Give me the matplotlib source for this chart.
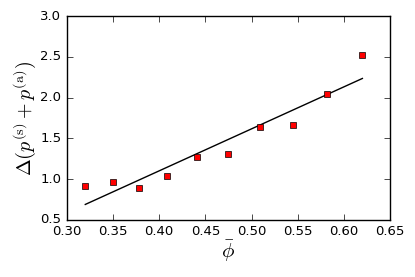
import matplotlib
matplotlib.use("Agg")
import matplotlib.pyplot as plt

phi = [0.32, 0.35, 0.378, 0.409, 0.441, 0.475, 0.509, 0.545, 0.582, 0.620]
delta_p = [0.92, 0.96, 0.89, 1.04, 1.27, 1.31, 1.64, 1.67, 2.04, 2.52]

fit_phi = [0.32, 0.62]
fit_delta = [0.69, 2.235]

plt.style.use('classic')
plt.rcParams['figure.facecolor'] = 'white'
plt.rcParams['savefig.facecolor'] = 'white'
plt.rcParams['mathtext.fontset'] = 'cm'

fig = plt.figure(figsize=(4.15, 2.77), dpi=100)
ax = fig.add_axes([0.161, 0.206, 0.779, 0.736])

ax.plot(fit_phi, fit_delta, color='black', linewidth=1)
ax.plot(phi, delta_p, linestyle='none', marker='s', markersize=5,
        markerfacecolor='red', markeredgecolor='black', markeredgewidth=0.5)

ax.set_xlim(0.30, 0.65)
ax.set_ylim(0.5, 3.0)
ax.set_xticks([0.30, 0.35, 0.40, 0.45, 0.50, 0.55, 0.60, 0.65])
ax.set_yticks([0.5, 1.0, 1.5, 2.0, 2.5, 3.0])
ax.tick_params(labelsize=9.5)

ax.set_xlabel(r'$\bar{\phi}$', fontsize=15, labelpad=0)
ax.set_ylabel(r'$\Delta(p^{\rm (s)}+p^{\rm (a)})$', fontsize=14.5, labelpad=1)

fig.savefig('out.png', dpi=100)
